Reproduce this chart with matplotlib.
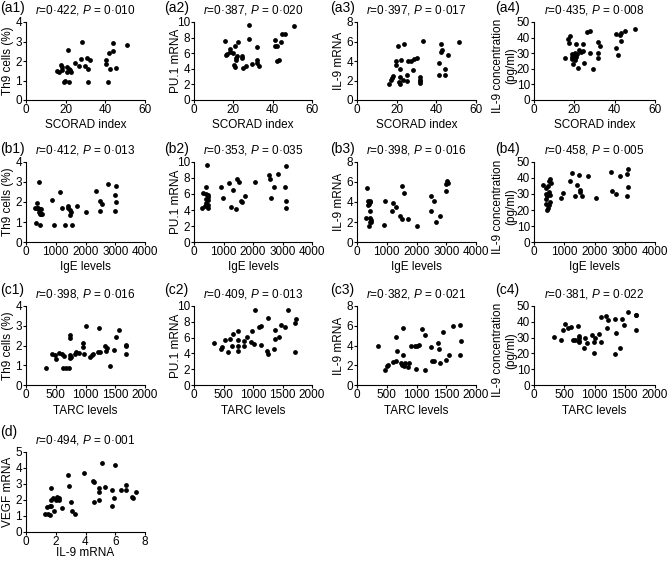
import matplotlib
matplotlib.use("Agg")
import matplotlib.pyplot as plt

plt.rcParams['font.family'] = ['Liberation Sans', 'DejaVu Sans']
plt.rcParams['font.size'] = 8.5
plt.rcParams['mathtext.fontset'] = 'custom'
plt.rcParams['mathtext.it'] = 'Liberation Sans:italic'
plt.rcParams['mathtext.rm'] = 'Liberation Sans'

# ---- data ----
# row a: SCORAD index
a1_x = [28, 21, 44, 51, 42, 44, 31, 32.5, 27.5, 40.5, 40.5, 24.5, 15.5, 16.5, 17.5, 18, 18,
        20.5, 21.5, 22, 22.5, 20.5, 26.5, 29.5, 31.5, 42.5, 45.5, 19, 19.5, 21.5, 31.5, 41.5]
a1_y = [3.0, 2.55, 2.93, 2.8, 2.4, 2.5, 2.15, 2.07, 2.1, 2.03, 1.87, 1.9, 1.5, 1.45, 1.77, 1.7, 1.53,
        1.7, 1.6, 1.55, 1.45, 1.42, 1.73, 1.73, 1.58, 1.6, 1.62, 0.93, 1.0, 0.92, 0.92, 0.93]

a2_x = [28, 51, 16, 28, 22.5, 44.5, 46.5, 41, 44, 21, 32, 41, 42, 18.5, 18.5, 20, 17,
        16.5, 22, 24.5, 24.5, 21.5, 21.5, 32, 32, 29.5, 20.5, 21, 25, 26.5, 33, 42, 43]
a2_y = [9.6, 9.5, 7.5, 7.85, 7.4, 8.5, 8.45, 7.7, 7.4, 6.95, 6.85, 6.95, 6.95, 6.5, 6.1, 6.0, 5.9,
        5.8, 5.7, 5.65, 5.4, 5.35, 5.1, 5.1, 4.8, 4.65, 4.5, 4.2, 4.15, 4.4, 4.3, 5.05, 5.15]

a3_x = [33.5, 51.5, 23.5, 20.5, 42.5, 43, 42.5, 46, 30, 28.5, 27, 25.5, 22, 19.5, 19.5, 41.5, 21.5, 28,
        44.5, 25, 18, 17.5, 17, 21.5, 23, 21, 21.5, 16, 25, 32, 32, 32, 32, 41.5, 44.5]
a3_y = [6.1, 6.0, 5.7, 5.5, 5.75, 5.1, 4.95, 4.6, 4.3, 4.2, 4.0, 4.05, 4.15, 3.95, 3.55, 3.75, 3.15, 3.1,
        3.15, 2.55, 2.5, 2.3, 2.1, 2.4, 2.1, 1.85, 1.6, 1.65, 1.9, 2.35, 2.1, 1.9, 1.7, 2.55, 2.6]

a4_x = [50, 45, 43, 40.5, 42.5, 43, 40.5, 41.5, 26.5, 28, 17, 18, 17.5, 21, 24.5, 31.5, 32.5, 31.5,
        31.5, 28, 22.5, 23.5, 24.5, 20.5, 21.5, 20.5, 19, 19, 21, 15.5, 19, 20.5, 19.5, 25, 22, 29.5]
a4_y = [45.7, 44, 42.9, 42.2, 41.4, 37.7, 33.2, 28.9, 43.8, 44.4, 39.2, 40.9, 36.6, 35.8, 35.8, 37.3, 34.5, 30,
        26.7, 30.2, 31.9, 31, 31.7, 30.4, 29.5, 28.4, 29.3, 27.6, 27.4, 27.2, 26.3, 25.6, 23.3, 23.7, 20.7, 19.8]

# row b: IgE levels
b1_x = [450, 865, 1157, 2764, 3011, 2360, 2978, 3022, 2472, 2551, 2483, 2978, 1225, 1708, 1427, 1427, 1483, 1506,
        1483, 2000, 382, 300, 370, 420, 460, 500, 450, 480, 520, 470, 540, 350, 472, 933, 1315, 1551]
b1_y = [3.0, 2.1, 2.49, 2.9, 2.78, 2.53, 2.37, 2.02, 2.07, 1.88, 1.56, 1.56, 1.68, 1.78, 1.81, 1.68, 1.61, 1.51,
        1.36, 1.48, 1.95, 1.68, 1.7, 1.68, 1.66, 1.65, 1.52, 1.45, 1.38, 1.38, 1.4, 0.97, 0.87, 0.87, 0.87, 0.87]

b2_x = [457, 3109, 2549, 2834, 2560, 2057, 1451, 1520, 1200, 914, 400, 1337, 2697, 3097, 1737, 971, 2606,
        1577, 1634, 3109, 3109, 1257, 1440, 286, 320, 411, 491, 469, 411, 469, 411, 469, 389, 491]
b2_y = [9.58, 9.5, 8.4, 8.45, 7.86, 7.56, 7.86, 7.56, 7.35, 6.85, 6.9, 6.55, 6.9, 6.9, 5.8, 5.46, 5.5,
        5.17, 5.04, 5.08, 4.29, 4.33, 4.12, 4.29, 6.1, 6.0, 5.9, 5.6, 5.4, 5.2, 4.9, 4.6, 4.5, 4.3]

b3_x = [320, 1497, 1566, 2491, 2583, 3029, 3051, 3006, 3006, 370, 450, 440, 390, 360, 926, 1211, 1314,
        1166, 434, 2503, 1429, 1520, 1703, 2800, 286, 434, 480, 470, 434, 400, 891, 2000, 2663]
b3_y = [5.42, 5.63, 4.92, 4.58, 4.07, 6.1, 5.93, 5.76, 5.15, 4.1, 4.15, 4.0, 3.85, 3.7, 4.1, 3.86, 3.49,
        3.15, 3.12, 3.08, 2.58, 2.3, 2.3, 2.58, 2.37, 2.45, 2.25, 2.05, 2.0, 1.6, 1.7, 1.56, 1.97]

b4_x = [314, 407, 465, 523, 488, 547, 407, 500, 523, 430, 407, 384, 488, 465, 430, 523, 953, 895,
        1198, 1267, 1477, 1419, 1535, 1523, 1360, 1593, 1779, 2047, 2558, 2593, 2698, 2849, 3058, 3093, 3105, 3081]
b4_y = [35.9, 33.8, 35.3, 39.1, 38, 37, 30, 31.1, 29.4, 28.6, 26.9, 23.7, 23.1, 21, 20.2, 24.8, 30.5, 27.3,
        38, 43.3, 42, 35.7, 32.6, 31.1, 29, 29, 41, 27.5, 43.7, 31.7, 30, 41, 42.6, 45.4, 34.2, 28.6]

# row c: TARC levels
c1_x = [330, 1000, 1233, 1568, 1506, 733, 733, 966, 955, 977, 898, 847, 824, 739, 756, 733, 642, 557, 597,
        483, 443, 500, 1068, 1108, 1119, 1205, 1250, 1347, 1364, 1477, 1335, 1420, 1676, 1676, 1688, 625, 670, 727]
c1_y = [0.85, 2.97, 2.9, 2.8, 2.45, 2.53, 2.4, 2.12, 1.9, 1.58, 1.62, 1.65, 1.58, 1.53, 1.43, 1.35, 1.48, 1.62, 1.57,
        1.53, 1.57, 1.33, 1.4, 1.5, 1.57, 1.65, 1.65, 1.7, 1.87, 1.78, 1.95, 0.98, 2.03, 1.95, 1.58, 0.85, 0.85, 0.85]

c2_x = [339, 517, 466, 483, 569, 615, 667, 644, 753, 753, 753, 741, 851, 851, 897, 960, 989, 1011,
        1029, 1103, 1144, 1144, 1247, 1241, 1259, 1374, 1374, 1356, 1448, 1477, 1534, 1592, 1736, 1718, 1718]
c2_y = [5.31, 5.65, 4.56, 4.77, 4.14, 5.86, 6.44, 4.9, 6.86, 5.65, 4.98, 4.27, 5.6, 4.98, 6.02, 5.44, 6.78, 5.19,
        9.5, 7.4, 7.49, 5.02, 8.45, 4.27, 3.97, 6.9, 5.86, 4.56, 6.02, 7.62, 7.28, 9.5, 8.37, 7.82, 4.18]

c3_x = [345, 471, 500, 529, 603, 649, 649, 678, 776, 747, 776, 764, 793, 805, 851, 874, 902, 977, 1006,
        1034, 994, 1092, 1149, 1138, 1236, 1264, 1293, 1368, 1379, 1391, 1448, 1494, 1540, 1609, 1736, 1741, 1724]
c3_y = [4.0, 1.47, 1.9, 2.07, 2.33, 2.4, 4.9, 3.4, 5.73, 2.23, 3.07, 2.07, 1.9, 2.23, 1.8, 2.23, 3.9, 3.97, 4.0,
        4.07, 1.63, 5.63, 5.07, 1.47, 3.83, 2.47, 2.47, 4.23, 3.63, 2.23, 5.4, 2.5, 3.07, 5.97, 6.07, 4.5, 3.07]

c4_x = [330, 444, 484, 513, 558, 615, 644, 684, 724, 746, 746, 746, 741, 826, 849, 883, 957, 986,
        997, 1014, 1071, 1111, 1111, 1191, 1225, 1214, 1339, 1362, 1339, 1424, 1453, 1487, 1556, 1681, 1692, 1692]
c4_y = [30.2, 28.7, 35.1, 38.8, 36, 36.6, 28.7, 28.7, 37.5, 30.8, 29.5, 28, 26.9, 23.7, 29.7, 26.3, 31.7, 26.9,
        20.5, 29.7, 32.3, 43.1, 26.9, 43.8, 41.4, 36, 41.6, 33, 19.8, 23.7, 41.6, 37.7, 45.9, 44.2, 44.2, 34.5]

# row d: IL-9 mRNA vs VEGF mRNA
d_x = [1.3, 1.4, 1.5, 1.6, 1.6, 1.7, 1.65, 1.7, 1.8, 1.9, 2.0, 2.1, 2.2, 2.2, 2.4, 2.8, 2.9, 3.0, 3.1, 3.3,
       3.9, 4.5, 4.6, 4.6, 4.9, 4.9, 4.9, 5.1, 5.3, 5.8, 5.8, 5.9, 6.0, 6.4, 6.7, 6.7, 7.1, 7.2, 7.4]
d_y = [1.1, 1.55, 1.1, 1.05, 1.6, 1.6, 2.75, 2.0, 2.1, 1.3, 2.0, 2.2, 2.0, 2.1, 1.5, 3.55, 2.9, 1.9, 1.3, 1.1,
       3.7, 3.2, 3.1, 1.9, 2.75, 2.5, 2.0, 4.3, 2.8, 2.65, 1.6, 2.1, 4.2, 2.65, 2.95, 2.65, 2.2, 2.1, 2.5]

stats = {
    'a1': ('0·422', '0·010'), 'a2': ('0·387', '0·020'), 'a3': ('0·397', '0·017'), 'a4': ('0·435', '0·008'),
    'b1': ('0·412', '0·013'), 'b2': ('0·353', '0·035'), 'b3': ('0·398', '0·016'), 'b4': ('0·458', '0·005'),
    'c1': ('0·398', '0·016'), 'c2': ('0·409', '0·013'), 'c3': ('0·382', '0·021'), 'c4': ('0·381', '0·022'),
    'd': ('0·494', '0·001'),
}

W, H = 667, 563
fig = plt.figure(figsize=(W / 100, H / 100), dpi=100)

col_left = [26, 194, 357, 534]
col_width = [119, 118, 119, 121]
row_top_bottom = {'a': (22, 100), 'b': (162, 242), 'c': (306, 385), 'd': (452, 532)}
label_x = [0, 164, 330, 495]
label_y = {'a': 8, 'b': 149, 'c': 290, 'd': 432}
xlabel_gap = {'a': 19, 'b': 19, 'c': 20, 'd': 15}   # px from axis to top of x label
ylabel_gap = [12, 12, 12, 17]                       # px from axis to right edge of y label
ylabel_mid = [0.5, 0.5, 0.5, 0.44]

ycfg = [
    ('Th9 cells (%)', (0, 4), [0, 1, 2, 3, 4]),
    ('PU.1 mRNA', (0, 10), [0, 2, 4, 6, 8, 10]),
    ('IL-9 mRNA', (0, 8), [0, 2, 4, 6, 8]),
    ('IL-9 concentration\n(pg/ml)', (0, 50), [0, 10, 20, 30, 40, 50]),
]
xcfg = {
    'a': ('SCORAD index', (0, 60), [0, 20, 40, 60]),
    'b': ('IgE levels', (0, 4000), [0, 1000, 2000, 3000, 4000]),
    'c': ('TARC levels', (0, 2000), [0, 500, 1000, 1500, 2000]),
}
series = {
    'a1': (a1_x, a1_y), 'a2': (a2_x, a2_y), 'a3': (a3_x, a3_y), 'a4': (a4_x, a4_y),
    'b1': (b1_x, b1_y), 'b2': (b2_x, b2_y), 'b3': (b3_x, b3_y), 'b4': (b4_x, b4_y),
    'c1': (c1_x, c1_y), 'c2': (c2_x, c2_y), 'c3': (c3_x, c3_y), 'c4': (c4_x, c4_y),
    'd': (d_x, d_y),
}


def panel(key, col, row, xlab, xlim, xt, ylab, ylim, yt):
    top, bot = row_top_bottom[row]
    w, h = col_width[col], bot - top
    ax = fig.add_axes([col_left[col] / W, 1 - bot / H, w / W, h / H])
    x, y = series[key]
    ax.scatter(x, y, s=12, color='black', linewidths=0, clip_on=False)
    ax.set_xlim(*xlim)
    ax.set_ylim(*ylim)
    ax.set_xticks(xt)
    ax.set_yticks(yt)
    ax.set_xlabel(xlab)
    ax.set_ylabel(ylab, linespacing=1.15)
    ax.xaxis.set_label_coords(0.5, -xlabel_gap[row] / h)
    ax.yaxis.set_label_coords(-ylabel_gap[col] / w, ylabel_mid[col])
    for s in ['top', 'right']:
        ax.spines[s].set_visible(False)
    for s in ['left', 'bottom']:
        ax.spines[s].set_linewidth(0.8)
    ax.tick_params(length=2, width=0.8, pad=1, labelsize=8.5)
    r, p = stats[key]
    ax.set_title(r'$r$=' + r + r', $P$ = ' + p, fontsize=8.5, pad=6)
    fig.text(label_x[col] / W, 1 - label_y[row] / H, '(' + key + ')', fontsize=10,
             ha='left', va='center')
    return ax


for row in 'abc':
    xlab, xlim, xt = xcfg[row]
    for col in range(4):
        ylab, ylim, yt = ycfg[col]
        panel(row + str(col + 1), col, row, xlab, xlim, xt, ylab, ylim, yt)

panel('d', 0, 'd', 'IL-9 mRNA', (0, 8), [0, 2, 4, 6, 8], 'VEGF mRNA', (0, 5), [0, 1, 2, 3, 4, 5])

fig.savefig('out.png', dpi=100)
